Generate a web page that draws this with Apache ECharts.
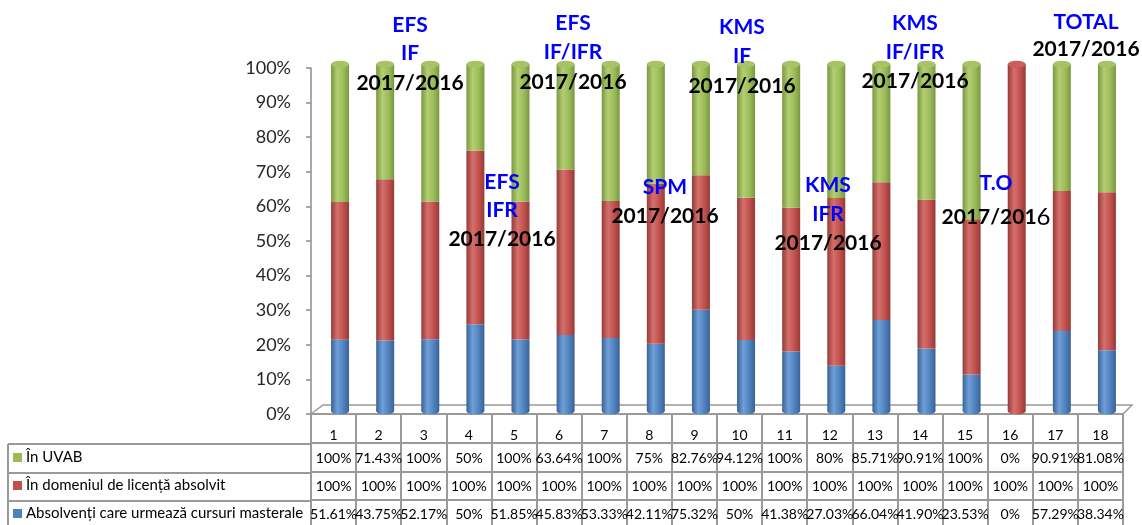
<!DOCTYPE html>
<html>
<head>
<meta charset="utf-8">
<script src="https://cdn.jsdelivr.net/npm/echarts@6/dist/echarts.min.js"></script>
<style>
html,body{margin:0;padding:0;background:#fff;}
#chart{width:1142px;height:525px;}
</style>
</head>
<body>
<div id="chart"></div>
<script>
// ---- DATA ----
const categories = ['1','2','3','4','5','6','7','8','9','10','11','12','13','14','15','16','17','18'];
const seriesNames = ['În UVAB', 'În domeniul de licență absolvit', 'Absolvenți care urmează cursuri masterale'];
const inUVAB = [100, 71.43, 100, 50, 100, 63.64, 100, 75, 82.76, 94.12, 100, 80, 85.71, 90.91, 100, 0, 90.91, 81.08];
const inDomeniu = [100, 100, 100, 100, 100, 100, 100, 100, 100, 100, 100, 100, 100, 100, 100, 100, 100, 100];
const masterale = [51.61, 43.75, 52.17, 50, 51.85, 45.83, 53.33, 42.11, 75.32, 50, 41.38, 27.03, 66.04, 41.90, 23.53, 0, 57.29, 38.34];
const yTickLabels = ['0%','10%','20%','30%','40%','50%','60%','70%','80%','90%','100%'];

// annotation texts (positions kept separately below)
const annotationTexts = [
  ['EFS', 'IF', '2017/2016'],
  ['EFS', 'IFR', '2017/2016'],
  ['EFS', 'IF/IFR', '2017/2016'],
  ['SPM', '2017/2016'],
  ['KMS', 'IF', '2017/2016'],
  ['KMS', 'IFR', '2017/2016'],
  ['KMS', 'IF/IFR', '2017/2016'],
  ['T.O', '2017/2016'],
  ['TOTAL', '2017/2016']
];

// ---- LAYOUT / STYLE ----
const annotationPos = [
  {x: 410, ys: [25, 53, 83]},
  {x: 502, ys: [182, 210, 239]},
  {x: 573, ys: [23, 52, 82]},
  {x: 665, ys: [187, 216]},
  {x: 742, ys: [27, 56, 86]},
  {x: 828, ys: [185, 214, 243]},
  {x: 915, ys: [23, 52, 81]},
  {x: 996, ys: [183, 217]},
  {x: 1086, ys: [22, 49]}
];

const FONT = 'Lato, "Open Sans", sans-serif';
const LINE = '#9a9a9a';

function fmt(v) { return (Number.isInteger(v) ? String(v) : v.toFixed(2)) + '%'; }

// 100% stacked shares
const totals = categories.map((c, i) => masterale[i] + inDomeniu[i] + inUVAB[i]);
const pct = arr => arr.map((v, i) => totals[i] ? v / totals[i] * 100 : 0);

function cyl(dark, light, base) {
  return new echarts.graphic.LinearGradient(0, 0, 1, 0, [
    {offset: 0, color: dark},
    {offset: 0.35, color: light},
    {offset: 0.7, color: base},
    {offset: 1, color: dark}
  ]);
}
const colGreen = cyl('#7a9640', '#b2cf72', '#9BBB59');
const colRed = cyl('#963a37', '#d4706c', '#C0504D');
const colBlue = cyl('#3a6296', '#6f9fd8', '#4F81BD');

const capTop = categories.map((c, i) => inUVAB[i] > 0 ? ['#a6c466', '#86a447'] : (inDomeniu[i] > 0 ? ['#cc5f5c', '#a84441'] : ['#6a98d0', '#3f6ea6']));
const capBottom = categories.map((c, i) => masterale[i] > 0 ? colBlue : (inDomeniu[i] > 0 ? colRed : colGreen));

function tableAxis(data, offset, len, margin) {
  return {
    type: 'category', gridIndex: 0, position: 'bottom', offset: offset,
    data: data,
    axisLine: {show: true, lineStyle: {color: LINE, width: 2}},
    axisTick: {show: true, interval: 0, length: len, lineStyle: {color: LINE, width: 2}},
    axisLabel: {interval: 0, margin: margin, fontSize: 14, fontFamily: FONT, color: '#000'},
    splitLine: {show: false}
  };
}

// annotation graphics
const graphics = [];
annotationTexts.forEach((lines, k) => {
  const p = annotationPos[k];
  lines.forEach((t, j) => {
    const isYear = t === '2017/2016';
    const st = {
      x: p.x, y: p.ys[j], align: 'center', verticalAlign: 'middle',
      fill: isYear ? '#000' : '#0000ff',
      font: 'bold 21px ' + FONT
    };
    if (isYear && lines[0] === 'T.O') {
      st.text = '{b|2017/201}{r|6}';
      st.rich = {b: {font: 'bold 21px ' + FONT, fill: '#000'}, r: {font: '24px ' + FONT, fill: '#000'}};
    } else {
      st.text = t;
    }
    graphics.push({type: 'text', z: 100, style: st});
  });
});
// left legend-column borders and 3D floor
const tl = 8, tr = 311;
[444, 473, 501].forEach(y => graphics.push({type: 'line', shape: {x1: tl, y1: y, x2: tr, y2: y}, style: {stroke: LINE, lineWidth: 2}}));
graphics.push({type: 'line', shape: {x1: tl, y1: 444, x2: tl, y2: 525}, style: {stroke: LINE, lineWidth: 2}});
graphics.push({type: 'polyline', shape: {points: [[311, 414], [323, 405], [1132, 405], [1123, 414]]}, style: {stroke: LINE, lineWidth: 1.5, fill: null}});

const chart = echarts.init(document.getElementById('chart'), null, {renderer: 'canvas'});
chart.setOption({
  animation: false,
  textStyle: {fontFamily: FONT},
  grid: [
    {left: 311, right: 19, top: 68, bottom: 111},
    {left: 317.5, right: 12.5, top: 64, bottom: 114}
  ],
  legend: {
    orient: 'vertical', left: 13, top: 450, padding: 0,
    itemWidth: 9, itemHeight: 9, itemGap: 13, icon: 'rect',
    textStyle: {fontSize: 15, fontFamily: FONT, color: '#000', padding: [0, 0, 0, -1]},
    data: [
      {name: seriesNames[0], itemStyle: {color: '#9BBB59'}},
      {name: seriesNames[1], itemStyle: {color: '#C0504D'}},
      {name: seriesNames[2], itemStyle: {color: '#4F81BD'}}
    ]
  },
  xAxis: [
    tableAxis(categories, 0, 29, 14),
    tableAxis(inUVAB.map(fmt), 29, 29, 8),
    tableAxis(inDomeniu.map(fmt), 58, 28, 7),
    tableAxis(masterale.map(fmt), 86, 30, 7),
    {type: 'category', gridIndex: 1, data: categories, show: false}
  ],
  yAxis: [
    {
      type: 'value', gridIndex: 0, min: 0, max: 100, interval: 10,
      axisLine: {show: true, lineStyle: {color: '#8c8c8c', width: 1.5}},
      axisTick: {show: true, length: 5, lineStyle: {color: '#8c8c8c', width: 1.5}},
      axisLabel: {margin: 20, fontSize: 18, fontFamily: FONT, color: '#262626',
        formatter: v => yTickLabels[Math.round(v / 10)]},
      splitLine: {show: false}
    },
    {type: 'value', gridIndex: 1, min: 0, max: 100, show: false}
  ],
  graphic: graphics,
  series: [
    {name: 'base', type: 'pictorialBar', xAxisIndex: 4, yAxisIndex: 1, symbol: 'circle',
      symbolSize: [18, 7], symbolPosition: 'start', symbolOffset: [0, '50%'], z: 1,
      data: totals.map((t, i) => ({value: 100, itemStyle: {color: capBottom[i]}}))},
    {name: seriesNames[2], type: 'bar', stack: 's', xAxisIndex: 4, yAxisIndex: 1, barWidth: 18, z: 2,
      itemStyle: {color: colBlue}, data: pct(masterale)},
    {name: seriesNames[1], type: 'bar', stack: 's', xAxisIndex: 4, yAxisIndex: 1, barWidth: 18, z: 2,
      itemStyle: {color: colRed}, data: pct(inDomeniu)},
    {name: seriesNames[0], type: 'bar', stack: 's', xAxisIndex: 4, yAxisIndex: 1, barWidth: 18, z: 2,
      itemStyle: {color: colGreen}, data: pct(inUVAB)},
    {name: 'cap', type: 'pictorialBar', xAxisIndex: 4, yAxisIndex: 1, symbol: 'circle',
      symbolSize: [18, 7], symbolPosition: 'end', symbolOffset: [0, '-50%'], z: 10,
      data: totals.map((t, i) => ({value: 100, itemStyle: {color: capTop[i][0], borderColor: capTop[i][1], borderWidth: 1}}))}
  ]
});
</script>
</body>
</html>
